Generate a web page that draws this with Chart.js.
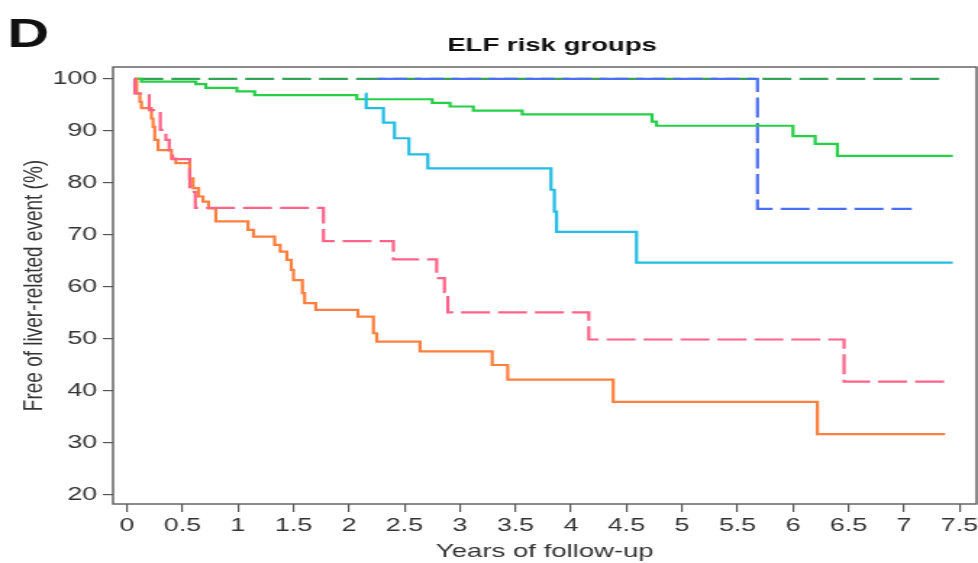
<!DOCTYPE html>
<html>
<head>
<meta charset="utf-8">
<title>ELF risk groups</title>
<script src="https://cdn.jsdelivr.net/npm/chart.js@4/dist/chart.umd.min.js"></script>
<style>
  html, body { margin: 0; padding: 0; background: #fff; overflow: hidden; }
  /* figure is drawn narrow and stretched sideways, like the printed panel */
  #wrap { width: 675px; height: 563px; transform: scaleX(1.4489); transform-origin: 0 0; }
</style>
</head>
<body>
<div id="wrap"><canvas id="km" width="675" height="563"></canvas></div>
<script>
// axis ticks
const xTicks = [0, 0.5, 1, 1.5, 2, 2.5, 3, 3.5, 4, 4.5, 5, 5.5, 6, 6.5, 7, 7.5];
const yTicks = [20, 30, 40, 50, 60, 70, 80, 90, 100];

// Kaplan-Meier steps: time of each step (years) and survival after it (%)
const greenDashT = [0.066, 7.39];
const greenDashS = [100, 100];

const blueDashT = [2.26, 5.68, 7.07];
const blueDashS = [100, 75, 75];

const greenT = [0.066, 0.13, 0.62, 0.71, 0.99, 1.15, 2.07, 2.75, 2.91, 3.12, 3.56, 4.73, 4.77, 6.00, 6.20, 6.40, 7.44];
const greenS = [100, 99.5, 99.0, 98.3, 97.6, 96.9, 96.1, 95.4, 94.7, 93.9, 93.2, 91.8, 91.0, 89.0, 87.5, 85.2, 85.2];

const cyanT = [2.15, 2.155, 2.31, 2.41, 2.54, 2.71, 3.82, 3.85, 3.87, 4.59, 7.44];
const cyanS = [97.2, 94.4, 91.6, 88.6, 85.5, 82.8, 78.7, 74.5, 70.6, 64.7, 64.7];

const pinkDashT = [0.066, 0.07, 0.20, 0.30, 0.35, 0.38, 0.41, 0.565, 0.615, 1.77, 2.40, 2.79, 2.86, 2.89, 4.16, 6.46, 7.43];
const pinkDashS = [100, 97.2, 94.0, 90.2, 88.3, 86.0, 84.6, 78.3, 75.2, 68.8, 65.3, 61.7, 59.0, 55.1, 49.9, 41.8, 41.8];

const orangeT = [0.066, 0.087, 0.116, 0.13, 0.22, 0.235, 0.25, 0.28, 0.40, 0.44, 0.565, 0.595, 0.645, 0.685, 0.735, 0.80,
  1.09, 1.14, 1.33, 1.38, 1.44, 1.48, 1.50, 1.58, 1.60, 1.70, 2.08, 2.22, 2.25, 2.64, 3.29, 3.43, 4.38, 6.22, 7.37];
const orangeS = [100, 97.2, 95.6, 94.4, 92.4, 90.8, 88.3, 86.3, 84.7, 83.8, 80.9, 79.0, 77.4, 76.4, 75.1, 72.6,
  71.0, 69.7, 68.1, 66.8, 65.2, 63.3, 61.3, 58.8, 56.9, 55.6, 54.3, 51.1, 49.5, 47.6, 45.0, 42.2, 37.9, 31.7, 31.7];

function steps(times, surv) {
  return times.map((t, i) => ({ x: t, y: surv[i] }));
}

const dash = [20, 5.5];

function curve(times, surv, color, dashed, order) {
  return {
    data: steps(times, surv),
    borderColor: color,
    borderWidth: 2.2,
    borderDash: dashed ? dash : [],
    stepped: 'before',
    pointRadius: 0,
    fill: false,
    order: order
  };
}

// box around the plot area
const frame = {
  id: 'frame',
  afterDatasetsDraw(chart) {
    const { ctx, chartArea: a } = chart;
    ctx.save();
    ctx.strokeStyle = '#5a5a5a';
    ctx.lineWidth = 1.4;
    ctx.strokeRect(a.left, a.top, a.right - a.left, a.bottom - a.top);
    ctx.restore();
  }
};

// panel letter and heading
const heading = {
  id: 'heading',
  afterDraw(chart) {
    const ctx = chart.ctx;
    ctx.save();
    ctx.fillStyle = '#111';
    ctx.textBaseline = 'alphabetic';
    ctx.font = 'bold 40px "Liberation Sans", Arial, sans-serif';
    ctx.textAlign = 'left';
    ctx.fillText('D', 5, 47);
    ctx.font = 'bold 19px "Liberation Sans", Arial, sans-serif';
    ctx.textAlign = 'center';
    ctx.fillText('ELF risk groups', 381, 51);
    ctx.restore();
  }
};

const tickFont = { family: '"Liberation Sans", Arial, sans-serif', size: 18.5 };
const titleFont = { family: '"Liberation Sans", Arial, sans-serif', size: 19 };

new Chart(document.getElementById('km'), {
  type: 'line',
  data: {
    datasets: [
      curve(pinkDashT, pinkDashS, '#ff6389', true, 0),
      curve(orangeT, orangeS, '#ff7f3e', false, 1),
      curve(cyanT, cyanS, '#22bde3', false, 2),
      curve(greenT, greenS, '#25cf46', false, 3),
      curve(blueDashT, blueDashS, '#4a6ff5', true, 4),
      curve(greenDashT, greenDashS, '#36a456', true, 5)
    ]
  },
  options: {
    responsive: false,
    animation: false,
    layout: { padding: { top: 67, right: 1, left: 0, bottom: 0 } },
    plugins: {
      legend: { display: false },
      tooltip: { enabled: false },
      title: { display: false }
    },
    scales: {
      x: {
        type: 'linear',
        min: -0.126,
        max: 7.654,
        afterBuildTicks: s => { s.ticks = xTicks.map(v => ({ value: v })); },
        afterFit: s => { s.height = 59; s.paddingLeft = 0; s.paddingRight = 0; },
        border: { display: false },
        grid: { drawOnChartArea: false, drawTicks: true, tickLength: 8, color: '#555', lineWidth: 1.2 },
        ticks: { color: '#333', font: tickFont, padding: 3, maxRotation: 0, autoSkip: false, callback: v => String(v) },
        title: { display: true, text: 'Years of follow-up', color: '#333', font: titleFont, padding: { top: 0, bottom: 0 } }
      },
      y: {
        min: 18.27,
        max: 102.3,
        afterBuildTicks: s => { s.ticks = yTicks.map(v => ({ value: v })); },
        afterFit: s => { s.width = 78; s.paddingTop = 0; s.paddingBottom = 0; },
        border: { display: false },
        grid: { drawOnChartArea: false, drawTicks: true, tickLength: 7, color: '#555', lineWidth: 1.2 },
        ticks: { color: '#333', font: tickFont, padding: 4, callback: v => String(v) },
        title: { display: true, text: 'Free of liver-related event (%)', color: '#333', font: titleFont, padding: { top: 12, bottom: 0 } }
      }
    }
  },
  plugins: [frame, heading]
});
</script>
</body>
</html>
